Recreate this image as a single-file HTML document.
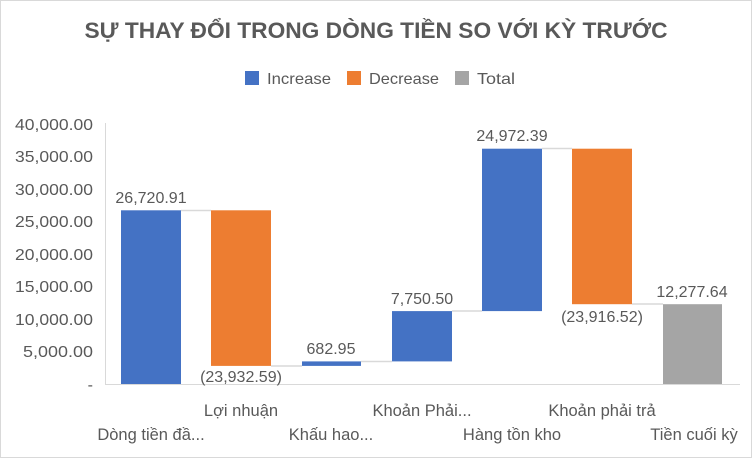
<!DOCTYPE html>
<html><head><meta charset="utf-8"><style>
html,body{margin:0;padding:0;background:#fff;}
svg{display:block;}
text{font-family:"Liberation Sans",sans-serif;fill:#595959;}
</style></head><body>
<svg width="752" height="458" viewBox="0 0 752 458" xmlns="http://www.w3.org/2000/svg">
<rect x="0.5" y="0.5" width="751" height="457" fill="#fff" stroke="#d9d9d9"/>
<text x="376" y="38" text-anchor="middle" font-size="22" font-weight="bold" textLength="583" lengthAdjust="spacingAndGlyphs">SỰ THAY ĐỔI TRONG DÒNG TIỀN SO VỚI KỲ TRƯỚC</text>
<rect x="245" y="71" width="14" height="14" fill="#4472c4"/>
<text x="267" y="84" font-size="16" textLength="64" lengthAdjust="spacingAndGlyphs">Increase</text>
<rect x="347" y="71" width="14" height="14" fill="#ed7d31"/>
<text x="369" y="84" font-size="16" textLength="70" lengthAdjust="spacingAndGlyphs">Decrease</text>
<rect x="455" y="71" width="14" height="14" fill="#a5a5a5"/>
<text x="477" y="84" font-size="16" textLength="38" lengthAdjust="spacingAndGlyphs">Total</text>
<g font-size="16" text-anchor="end">
<text x="93" y="130" textLength="78" lengthAdjust="spacingAndGlyphs">40,000.00</text>
<text x="93" y="162" textLength="78" lengthAdjust="spacingAndGlyphs">35,000.00</text>
<text x="93" y="195" textLength="78" lengthAdjust="spacingAndGlyphs">30,000.00</text>
<text x="93" y="227" textLength="78" lengthAdjust="spacingAndGlyphs">25,000.00</text>
<text x="93" y="260" textLength="78" lengthAdjust="spacingAndGlyphs">20,000.00</text>
<text x="93" y="292" textLength="78" lengthAdjust="spacingAndGlyphs">15,000.00</text>
<text x="93" y="325" textLength="78" lengthAdjust="spacingAndGlyphs">10,000.00</text>
<text x="93" y="357" textLength="70" lengthAdjust="spacingAndGlyphs">5,000.00</text>
<text x="93" y="390">-</text>
</g>
<line x1="105.5" y1="123" x2="105.5" y2="385" stroke="#d9d9d9"/>
<line x1="105" y1="384.5" x2="740" y2="384.5" stroke="#d9d9d9"/>
<g stroke="#d9d9d9" stroke-width="1.5">
<line x1="181" y1="210.5" x2="211" y2="210.5"/>
<line x1="271" y1="366" x2="302" y2="366"/>
<line x1="361" y1="361.5" x2="392" y2="361.5"/>
<line x1="452" y1="311" x2="482" y2="311"/>
<line x1="542" y1="148.5" x2="572" y2="148.5"/>
<line x1="632" y1="304" x2="663" y2="304"/>
</g>
<rect x="121" y="210.3" width="60" height="173.7" fill="#4472c4"/>
<rect x="211" y="210.3" width="60" height="155.6" fill="#ed7d31"/>
<rect x="302" y="361.4" width="59" height="4.5" fill="#4472c4"/>
<rect x="392" y="311.1" width="60" height="50.3" fill="#4472c4"/>
<rect x="482" y="148.7" width="60" height="162.4" fill="#4472c4"/>
<rect x="572" y="148.7" width="60" height="155.5" fill="#ed7d31"/>
<rect x="663" y="304.2" width="59" height="79.8" fill="#a5a5a5"/>
<g font-size="16" text-anchor="middle">
<text x="151" y="203">26,720.91</text>
<text x="241" y="382">(23,932.59)</text>
<text x="331" y="354">682.95</text>
<text x="422" y="304">7,750.50</text>
<text x="512" y="141">24,972.39</text>
<text x="602" y="322">(23,916.52)</text>
<text x="692" y="297">12,277.64</text>
</g>
<g font-size="16.5" text-anchor="middle">
<text x="241" y="416">Lợi nhuận</text>
<text x="422" y="416">Khoản Phải...</text>
<text x="602" y="416">Khoản phải trả</text>
<text x="151" y="440">Dòng tiền đầ...</text>
<text x="331" y="440">Khấu hao...</text>
<text x="512" y="440">Hàng tồn kho</text>
<text x="694" y="440">Tiền cuối kỳ</text>
</g>
</svg>
</body></html>
